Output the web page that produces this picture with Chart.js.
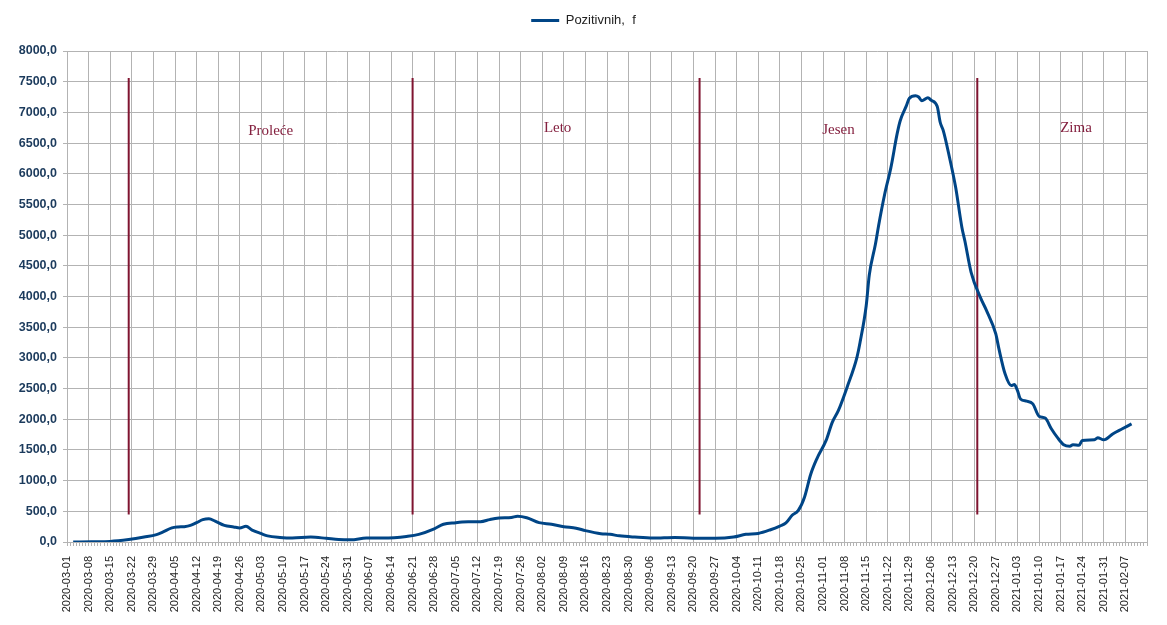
<!DOCTYPE html>
<html>
<head>
<meta charset="utf-8">
<script src="https://cdn.jsdelivr.net/npm/chart.js"></script>
<style>
  body { margin: 0; background: #fff; }
  #wrap { width: 1167px; height: 625px; }
</style>
</head>
<body>
<div id="wrap"><canvas id="chart" width="1167" height="625"></canvas></div>
<script>
// dani od 2020-03-01 (dan 0) i broj pozitivnih (klizni prosek)
const days = [2, 8, 14, 20, 25, 29, 31, 34, 36, 38, 40, 42, 44, 46, 48, 51, 54, 56, 58, 60,
  63, 65, 69, 73, 79, 84, 88, 92, 97, 102, 106, 110, 114, 119, 122, 126, 128, 130, 134, 137,
  140, 144, 146, 149, 153, 157, 161, 165, 168, 173, 176, 179, 184, 190, 197, 203, 210, 216, 220, 224,
  228, 231, 233, 235, 237, 239, 241, 243, 246, 248, 250, 253, 256, 257, 259, 260, 262, 263, 265, 267,
  269, 270, 272, 273, 275, 276, 277, 279, 280, 282, 283, 284, 286, 288, 290, 291, 293, 296, 298, 301,
  302, 304, 306, 307, 308, 309, 311, 313, 315, 317, 319, 321, 323, 325, 326, 328, 329, 333, 334, 336,
  339, 342, 345];
const positives = [0, 5, 10, 40, 80, 120, 160, 230, 245, 250, 270, 315, 365, 380, 340, 270, 245, 230, 255, 195,
  135, 100, 75, 65, 80, 60, 40, 35, 65, 65, 70, 90, 125, 215, 290, 315, 325, 330, 330, 365,
  390, 400, 420, 395, 315, 290, 250, 225, 185, 135, 125, 100, 80, 65, 75, 60, 60, 80, 125, 140,
  200, 260, 310, 435, 515, 730, 1100, 1355, 1655, 1950, 2145, 2550, 3010, 3250, 3850, 4350, 4855, 5150, 5670, 6100,
  6645, 6860, 7105, 7230, 7270, 7250, 7190, 7240, 7200, 7100, 6835, 6700, 6265, 5775, 5130, 4900, 4395, 3985, 3770, 3390,
  3150, 2740, 2550, 2565, 2470, 2330, 2295, 2250, 2050, 2020, 1845, 1700, 1585, 1560, 1585, 1575, 1655, 1665, 1700, 1665,
  1765, 1845, 1925];

const weekLabels = ['2020-03-01', '2020-03-08', '2020-03-15', '2020-03-22', '2020-03-29',
  '2020-04-05', '2020-04-12', '2020-04-19', '2020-04-26', '2020-05-03', '2020-05-10', '2020-05-17',
  '2020-05-24', '2020-05-31', '2020-06-07', '2020-06-14', '2020-06-21', '2020-06-28', '2020-07-05',
  '2020-07-12', '2020-07-19', '2020-07-26', '2020-08-02', '2020-08-09', '2020-08-16', '2020-08-23',
  '2020-08-30', '2020-09-06', '2020-09-13', '2020-09-20', '2020-09-27', '2020-10-04', '2020-10-11',
  '2020-10-18', '2020-10-25', '2020-11-01', '2020-11-08', '2020-11-15', '2020-11-22', '2020-11-29',
  '2020-12-06', '2020-12-13', '2020-12-20', '2020-12-27', '2021-01-03', '2021-01-10', '2021-01-17',
  '2021-01-24', '2021-01-31', '2021-02-07'];

// granice godišnjih doba
const seasonDays = [20, 112, 205, 295];
const seasonLineRange = [450, 7560];
const seasonNames = ['Proleće', 'Leto', 'Jesen', 'Zima'];
const seasonLabelDays = [66, 159, 250, 327];
const seasonLabelValues = [6700, 6745, 6715, 6750];

const seasonColor = '#7f1430';
const gridColor = '#b3b3b3';

const datasets = [{
  label: 'Pozitivnih,  f',
  data: days.map((d, i) => ({ x: d, y: positives[i] })),
  borderColor: '#004586',
  backgroundColor: '#004586',
  borderWidth: 3,
  pointRadius: 0,
  cubicInterpolationMode: 'monotone',
  order: 1
}];
seasonDays.forEach((d, i) => {
  datasets.push({
    label: 'granica' + i,
    data: seasonLineRange.map(v => ({ x: d, y: v })),
    borderColor: seasonColor,
    borderWidth: 2,
    pointRadius: 0,
    order: 2
  });
});

// natpisi godišnjih doba
const seasonLabels = {
  id: 'seasonLabels',
  beforeLayout(chart) {
    // malo prostora ispod legende
    const legend = chart.legend;
    if (legend && !legend._patched) {
      const fit = legend.fit;
      legend.fit = function () {
        fit.call(this);
        this.height += 14;
      };
      legend._patched = true;
    }
  },
  afterDatasetsDraw(chart) {
    const ctx = chart.ctx;
    const xs = chart.scales.x, ys = chart.scales.y;
    ctx.save();
    ctx.fillStyle = '#84203f';
    ctx.font = '15px "Liberation Serif"';
    ctx.textAlign = 'center';
    ctx.textBaseline = 'middle';
    seasonNames.forEach((name, i) => {
      ctx.fillText(name, xs.getPixelForValue(seasonLabelDays[i]), ys.getPixelForValue(seasonLabelValues[i]));
    });
    ctx.restore();
  }
};

new Chart(document.getElementById('chart'), {
  type: 'line',
  data: { datasets },
  options: {
    responsive: false,
    animation: false,
    layout: { padding: { top: 4, right: 0 } },
    plugins: {
      legend: {
        position: 'top',
        labels: {
          usePointStyle: true,
          pointStyle: 'line',
          pointStyleWidth: 28,
          color: '#222',
          font: { family: '"Liberation Sans"', size: 13 },
          padding: 10,
          filter: item => item.datasetIndex === 0
        }
      },
      tooltip: { enabled: false }
    },
    scales: {
      x: {
        type: 'linear',
        min: 0,
        max: 350,
        afterFit(scale) {
          scale.height = 83;
          scale.paddingLeft = 0;
          scale.paddingRight = 20;
        },
        ticks: {
          stepSize: 1,
          autoSkip: false,
          minRotation: 90,
          maxRotation: 90,
          padding: 10,
          color: '#222',
          font: { family: '"Liberation Sans"', size: 11 },
          callback: v => (v % 7 === 0 && weekLabels[v / 7]) ? weekLabels[v / 7] : ''
        },
        grid: {
          color: c => (c.tick && c.tick.value % 7 === 0) ? gridColor : 'rgba(0,0,0,0)',
          tickColor: gridColor,
          tickLength: 4
        },
        border: { color: gridColor }
      },
      y: {
        min: 0,
        max: 8000,
        afterFit(scale) { scale.width = 67; },
        ticks: {
          stepSize: 500,
          padding: 6,
          color: '#1b3a5c',
          font: { family: '"Liberation Sans"', size: 12.5, weight: 'bold' },
          callback: v => v.toFixed(1).replace('.', ',')
        },
        grid: { color: gridColor, tickLength: 4 },
        border: { color: gridColor }
      }
    }
  },
  plugins: [seasonLabels]
});
</script>
</body>
</html>
